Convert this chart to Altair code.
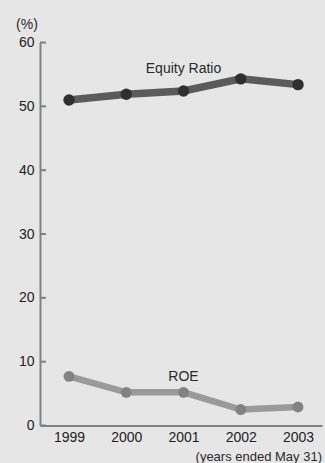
import altair as alt
import pandas as pd

# Fiscal years (ended May 31) and the two ratios, in percent
years = [1999, 2000, 2001, 2002, 2003]
equity_ratio = [51.0, 51.9, 52.4, 54.3, 53.4]
roe = [7.7, 5.2, 5.2, 2.5, 2.9]
y_ticks = [0, 10, 20, 30, 40, 50, 60]

# Series labels and where they sit (year, value)
series_labels = ["Equity Ratio", "ROE"]
label_years = [2001, 2001]
label_values = [55.9, 7.65]

FONT = "Liberation Sans"
AXIS_GRAY = "#808080"

eq_df = pd.DataFrame({"year": years, "value": equity_ratio})
roe_df = pd.DataFrame({"year": years, "value": roe})
tick_df = pd.DataFrame({"value": y_ticks})
lab_df = pd.DataFrame({"year": label_years, "value": label_values, "label": series_labels})

x_scale = alt.Scale(domain=[1998.493, 2003.419], nice=False, zero=False)
y_scale = alt.Scale(domain=[0, 60], nice=False)

x_axis = alt.Axis(values=years, format="d", title=None, grid=False, ticks=False,
                  domainColor=AXIS_GRAY, domainWidth=2, labelFontSize=14,
                  labelColor="#222222", labelPadding=5, labelFont=FONT)
y_axis = alt.Axis(values=y_ticks, title=None, grid=False, ticks=False,
                  domainColor=AXIS_GRAY, domainWidth=2, labelFontSize=14,
                  labelColor="#222222", labelPadding=6, labelFont=FONT)

X = alt.X("year:Q", scale=x_scale, axis=x_axis)
Y = alt.Y("value:Q", scale=y_scale, axis=y_axis)

# Short inward ticks on the value axis
inner_ticks = alt.Chart(tick_df).mark_rule(color=AXIS_GRAY, strokeWidth=2).encode(
    x=alt.value(0), x2=alt.value(6), y=alt.Y("value:Q", scale=y_scale, axis=y_axis)
)

eq_line = alt.Chart(eq_df).mark_line(color="#5b5b5b", strokeWidth=7.5).encode(x=X, y=Y)
eq_pts = alt.Chart(eq_df).mark_point(filled=True, color="#2f2f2f", size=130, opacity=1).encode(x=X, y=Y)

roe_line = alt.Chart(roe_df).mark_line(color="#9a9a9a", strokeWidth=6.5).encode(x=X, y=Y)
roe_pts = alt.Chart(roe_df).mark_point(filled=True, color="#828282", size=118, opacity=1).encode(x=X, y=Y)

series_text = alt.Chart(lab_df).mark_text(font=FONT, fontSize=14, color="#2a2a2a",
                                          baseline="middle", align="center").encode(
    x=X, y=Y, text="label:N"
)

unit_text = alt.Chart(lab_df.head(1)).mark_text(font=FONT, fontSize=14, color="#2a2a2a",
                                                baseline="middle", align="center").encode(
    x=alt.value(-13), y=alt.value(-18), text=alt.value("(%)")
)

period_text = alt.Chart(lab_df.head(1)).mark_text(font=FONT, fontSize=13, color="#2a2a2a",
                                                  baseline="middle", align="right").encode(
    x=alt.value(282), y=alt.value(414.5), text=alt.value("(years ended May 31)")
)

chart = alt.layer(
    inner_ticks, eq_line, eq_pts, roe_line, roe_pts, series_text, unit_text, period_text
).properties(
    width=282, height=383,
    padding={"left": 40, "top": 42.5, "right": 3, "bottom": 37.5},
    autosize=alt.AutoSizeParams(type="none"),
    background="#e6e6e6",
).configure_view(stroke=None)

chart.save("out.html", embed_options={"renderer": "svg", "actions": False})
